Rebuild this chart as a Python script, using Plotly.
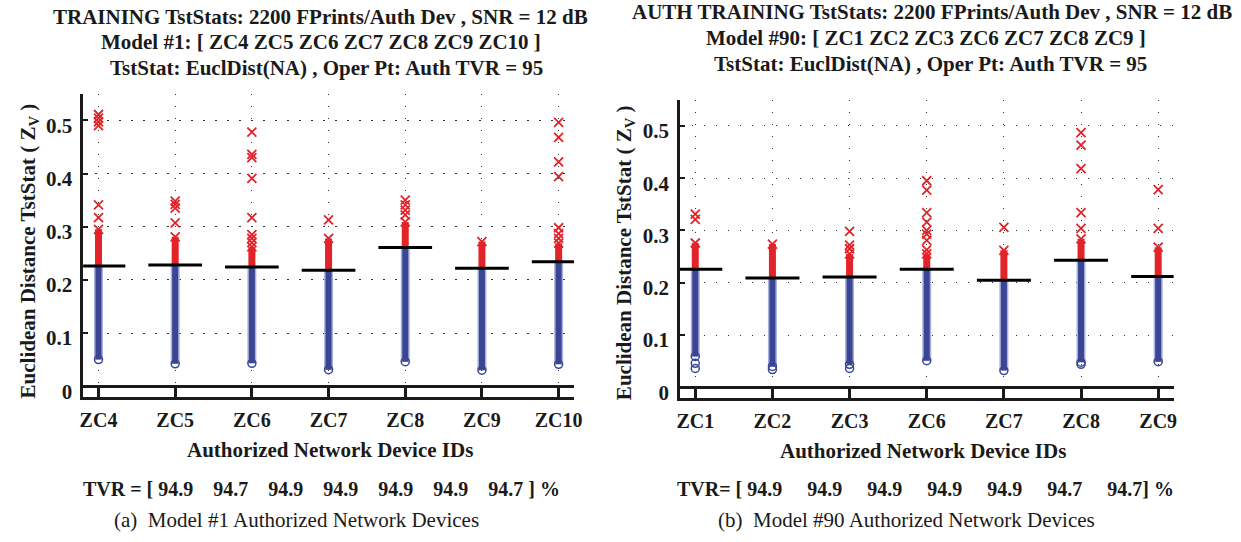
import plotly.graph_objects as go

W, H = 1241, 542
SERIF = "Liberation Serif"

# ---- Model #1 : authorized devices ZC4..ZC10 ----
m1_ids = ["ZC4", "ZC5", "ZC6", "ZC7", "ZC8", "ZC9", "ZC10"]
m1_thr = [0.226, 0.228, 0.224, 0.218, 0.261, 0.222, 0.234]
m1_low = [0.050, 0.042, 0.043, 0.031, 0.046, 0.030, 0.041]
m1_low_extra = [[], [], [], [], [], [], []]
m1_red_top = [0.295, 0.281, 0.262, 0.278, 0.309, 0.272, 0.269]
m1_red_out = [
    [0.317, 0.341, 0.490, 0.497, 0.504, 0.511],
    [0.307, 0.335, 0.342, 0.348],
    [0.270, 0.278, 0.285, 0.317, 0.391, 0.430, 0.436, 0.478],
    [0.313],
    [0.322, 0.331, 0.341, 0.350],
    [],
    [0.278, 0.287, 0.298, 0.394, 0.422, 0.468, 0.496],
]
m1_tvr = ["94.9", "94.7", "94.9", "94.9", "94.9", "94.9", "94.7"]

# ---- Model #90 : authorized devices ZC1, ZC2, ZC3, ZC6..ZC9 ----
m90_ids = ["ZC1", "ZC2", "ZC3", "ZC6", "ZC7", "ZC8", "ZC9"]
m90_thr = [0.226, 0.209, 0.211, 0.226, 0.205, 0.243, 0.212]
m90_low = [0.059, 0.040, 0.044, 0.051, 0.032, 0.048, 0.049]
m90_low_extra = [[0.046, 0.036], [0.034], [0.036], [], [], [0.044], []]
m90_red_top = [0.276, 0.274, 0.255, 0.255, 0.262, 0.284, 0.268]
m90_red_out = [
    [0.321, 0.331],
    [],
    [0.265, 0.272, 0.298],
    [0.263, 0.281, 0.293, 0.300, 0.316, 0.334, 0.377, 0.395],
    [0.306],
    [0.304, 0.334, 0.418, 0.463, 0.487],
    [0.304, 0.378],
]
m90_tvr = ["94.9", "94.9", "94.9", "94.9", "94.9", "94.7", "94.7"]

BLUE = "#3a4595"
BLUE_EDGE = "#a9b0dc"
RED = "#e3232a"
INK = "#1a1a1a"

fig = go.Figure()


def segments(xs, y0s, y1s):
    px, py = [], []
    for x, a, b in zip(xs, y0s, y1s):
        px += [x, x, None]
        py += [a, b, None]
    return px, py


def add_panel(thr, low, low_extra, red_top, red_out, xa, ya):
    pos = list(range(1, len(thr) + 1))
    # accepted (above threshold) samples: dense band + individual crosses
    rx, ry = segments(pos, thr, red_top)
    fig.add_trace(go.Scatter(x=rx, y=ry, mode="lines", xaxis=xa, yaxis=ya,
                             line=dict(color=RED, width=7), hoverinfo="skip"))
    mx, my = [], []
    for p, top, outs in zip(pos, red_top, red_out):
        for v in [top] + outs:
            mx.append(p)
            my.append(v)
    fig.add_trace(go.Scatter(x=mx, y=my, mode="markers", xaxis=xa, yaxis=ya,
                             marker=dict(symbol="x-thin", size=9, color=RED,
                                         line=dict(color=RED, width=1.8))))
    # samples below threshold: dense band of open circles
    bx, by = segments(pos, low, thr)
    fig.add_trace(go.Scatter(x=bx, y=by, mode="lines", xaxis=xa, yaxis=ya,
                             line=dict(color=BLUE_EDGE, width=9), hoverinfo="skip"))
    fig.add_trace(go.Scatter(x=bx, y=by, mode="lines", xaxis=xa, yaxis=ya,
                             line=dict(color=BLUE, width=6), hoverinfo="skip"))
    cx, cy = [], []
    for p, lo, extra in zip(pos, low, low_extra):
        for v in [lo] + extra:
            cx.append(p)
            cy.append(v)
    fig.add_trace(go.Scatter(x=cx, y=cy, mode="markers", xaxis=xa, yaxis=ya,
                             marker=dict(symbol="circle-open", size=8, color=BLUE,
                                         line=dict(color=BLUE, width=1.5))))
    # operating-point threshold per device
    tx, ty = [], []
    for p, t in zip(pos, thr):
        tx += [p - 0.35, p + 0.35, None]
        ty += [t, t, None]
    fig.add_trace(go.Scatter(x=tx, y=ty, mode="lines", xaxis=xa, yaxis=ya,
                             line=dict(color="black", width=3), hoverinfo="skip"))


add_panel(m1_thr, m1_low, m1_low_extra, m1_red_top, m1_red_out, "x", "y")
add_panel(m90_thr, m90_low, m90_low_extra, m90_red_top, m90_red_out, "x2", "y2")


def bold(size):
    return dict(family=SERIF, size=size, color=INK, weight="bold")


grid = dict(showgrid=True, gridcolor="#333", gridwidth=1.4, griddash="1.5px,10.5px")


def xaxis(dom, ids, anchor):
    return dict(domain=dom, anchor=anchor, range=[0.8, 7.2],
                tickvals=list(range(1, len(ids) + 1)),
                ticktext=ids, ticks="inside", ticklen=10, tickwidth=2.5,
                tickcolor=INK, showline=True, linewidth=2.5, linecolor=INK,
                zeroline=False, tickfont=bold(20), ticklabelstandoff=3, **grid)


def yaxis(dom, anchor):
    return dict(domain=dom, anchor=anchor, range=[-0.02, 0.55],
                tickvals=[0, 0.1, 0.2, 0.3, 0.4, 0.5],
                ticktext=["0", "0.1", "0.2", "0.3", "0.4", "0.5"],
                ticks="inside", ticklen=5, tickwidth=1.5, tickcolor=INK,
                showline=True, linewidth=2.5, linecolor=INK,
                zeroline=True, zerolinecolor=INK, zerolinewidth=2.5,
                tickfont=bold(21), ticklabelstandoff=4, ticklabelshift=5, **grid)


fig.update_layout(
    width=W, height=H, margin=dict(l=0, r=0, t=0, b=0),
    paper_bgcolor="white", plot_bgcolor="white", showlegend=False,
    xaxis=xaxis([80 / W, 576 / W], m1_ids, "y"),
    yaxis=yaxis([1 - 402 / H, 1 - 95 / H], "x"),
    xaxis2=xaxis([683 / W, 1182 / W], m90_ids, "y2"),
    yaxis2=yaxis([1 - 403 / H, 1 - 101 / H], "x2"),
)


def text(x, y, s, size=18, weight="bold", angle=0):
    fig.add_annotation(x=x / W, y=1 - y / H, xref="paper", yref="paper", text=s,
                       showarrow=False, textangle=angle, xanchor="center",
                       yanchor="middle",
                       font=dict(family=SERIF, size=size, color=INK, weight=weight))


# left panel texts
text(320, 17, "TRAINING TstStats: 2200 FPrints/Auth Dev , SNR = 12 dB", 21)
text(320, 43, "Model #1: [ " + " ".join(m1_ids) + " ]", 21)
text(326, 69, "TstStat: EuclDist(NA) , Oper Pt: Auth TVR = 95", 21)
text(25, 254, "Euclidean Distance TstStat ( Z<sub>V</sub> )", 21, angle=-90)
text(329, 456, "Authorized Network Device IDs", 21)
text(321, 495, "TVR = [ " + ("\u00a0" * 4).join(m1_tvr) + " ] %", 20)
text(296, 527, "(a)  Model #1 Authorized Network Devices", 21, weight="normal")

# right panel texts
text(938, 12, "AUTH TRAINING TstStats: 2200 FPrints/Auth Dev , SNR = 12 dB", 21)
text(932, 39, "Model #90: [ " + " ".join(m90_ids) + " ]", 21)
text(936, 65, "TstStat: EuclDist(NA) , Oper Pt: Auth TVR = 95", 21)
text(627, 256, "Euclidean Distance TstStat ( Z<sub>V</sub> )", 21, angle=-90)
text(929, 457, "Authorized Network Device IDs", 21)
text(931, 495, "TVR= [ " + ("\u00a0" * 5).join(m90_tvr) + "] %", 20)
text(912, 527, "(b)  Model #90 Authorized Network Devices", 21, weight="normal")

fig.write_html("out.html")
